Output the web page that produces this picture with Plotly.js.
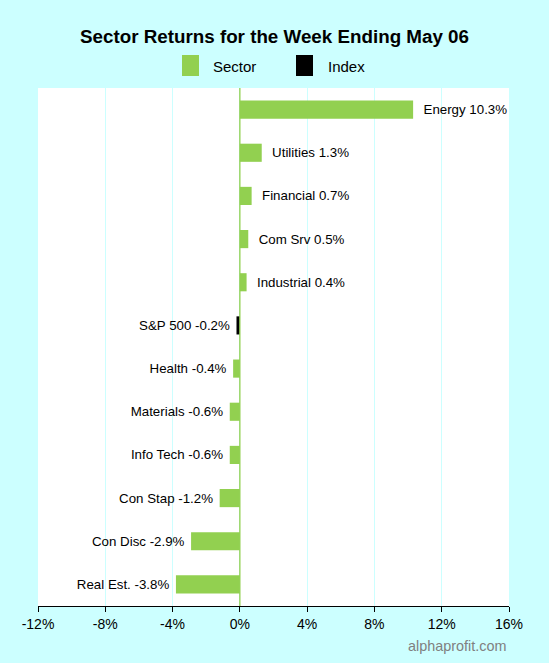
<!DOCTYPE html>
<html>
<head>
<meta charset="utf-8">
<script src="https://cdn.plot.ly/plotly-3.0.1.min.js"></script>
<style>html,body{margin:0;padding:0;background:#ccffff;}#chart{width:549px;height:663px;}</style>
</head>
<body>
<div id="chart"></div>
<script>
// Categories from top to bottom
const categories = ["Energy","Utilities","Financial","Com Srv","Industrial","S&P 500","Health","Materials","Info Tech","Con Stap","Con Disc","Real Est."];
const returns = [10.3, 1.3, 0.7, 0.5, 0.4, -0.2, -0.4, -0.6, -0.6, -1.2, -2.9, -3.8];
const indexName = "S&P 500";
const legendNames = ["Sector", "Index"];
const tickVals = [-12,-8,-4,0,4,8,12,16];
const tickText = ["-12%","-8%","-4%","0%","4%","8%","12%","16%"];

const green = "#92d050";
const black = "#000000";
const NB = "\u00a0";

const sectorY = [], sectorX = [], sectorT = [];
const indexY = [], indexX = [], indexT = [];
categories.forEach((c,i)=>{
  const v = returns[i];
  const core = c + " " + v.toFixed(1) + "%";
  const lbl = v >= 0 ? NB + NB + core : core + NB;
  if (c === indexName) { indexY.push(c); indexX.push(v); indexT.push(lbl); }
  else { sectorY.push(c); sectorX.push(v); sectorT.push(lbl); }
});

const textFont = {family:"Liberation Sans, Arial, sans-serif", size:13.3, color:"#000000"};

const traces = [
  {type:"bar", orientation:"h", name:legendNames[0], y:sectorY, x:sectorX, text:sectorT,
   textposition:"outside", constraintext:"none", textfont:textFont, cliponaxis:false,
   marker:{color:green}, hoverinfo:"skip", showlegend:false},
  {type:"bar", orientation:"h", name:legendNames[1], y:indexY, x:indexX, text:indexT,
   textposition:"outside", constraintext:"none", textfont:textFont, cliponaxis:false,
   marker:{color:black}, hoverinfo:"skip", showlegend:false}
];

// plot area geometry in pixels (for paper-coordinate legend placement)
const L = 38, R = 509, T = 88, B = 606;
const px = x => (x - L) / (R - L);
const py = y => (B - y) / (B - T);

const legendColors = [green, black];
const legendSquareX = [182, 296];
const legendTextX = [211, 326];
const shapes = legendNames.map((n,i)=>({
  type:"rect", xref:"paper", yref:"paper",
  x0:px(legendSquareX[i]), x1:px(legendSquareX[i]+17), y0:py(76), y1:py(55),
  fillcolor:legendColors[i], line:{width:0}
}));
// zero reference line
shapes.push({type:"line", xref:"x", yref:"paper", x0:0, x1:0, y0:0, y1:1,
  line:{color:green, width:1.3}, layer:"above"});

const annotations = legendNames.map((n,i)=>({
  text:n, xref:"paper", yref:"paper", x:px(legendTextX[i]), xanchor:"left",
  y:py(66), yanchor:"middle", showarrow:false, font:{size:15, color:"#000000"}
}));
annotations.push({text:"alphaprofit.com", xref:"paper", yref:"paper", x:px(508), xanchor:"right",
  y:py(646), yanchor:"middle", showarrow:false, font:{size:14.4, color:"#808080"}});

const layout = {
  width:549, height:663,
  paper_bgcolor:"#ccffff", plot_bgcolor:"#ffffff",
  margin:{l:L, r:549-R, t:T, b:663-B},
  font:{family:"Liberation Sans, Arial, sans-serif", color:"#000000"},
  title:{text:"<b>Sector Returns for the Week Ending May 06</b>", x:0.5, xanchor:"center",
         y:1-36/663, yanchor:"middle", font:{size:18.8, color:"#000000"}},
  showlegend:false,
  barmode:"overlay", bargap:0.58,
  xaxis:{range:[-12,16], tickvals:tickVals, ticktext:tickText, showgrid:true,
         gridcolor:"#ccffff", gridwidth:1, zeroline:false,
         showline:true, linecolor:"#000000", linewidth:1, ticks:"outside", ticklen:5,
         tickcolor:"#000000", tickfont:{size:14}, fixedrange:true},
  yaxis:{type:"category", categoryorder:"array", categoryarray:categories.slice().reverse(),
         range:[-0.5, categories.length-0.5], showticklabels:false, showgrid:false,
         zeroline:false, showline:false, ticks:"", fixedrange:true},
  shapes:shapes,
  annotations:annotations
};

Plotly.newPlot("chart", traces, layout, {displayModeBar:false, staticPlot:true});
</script>
</body>
</html>
